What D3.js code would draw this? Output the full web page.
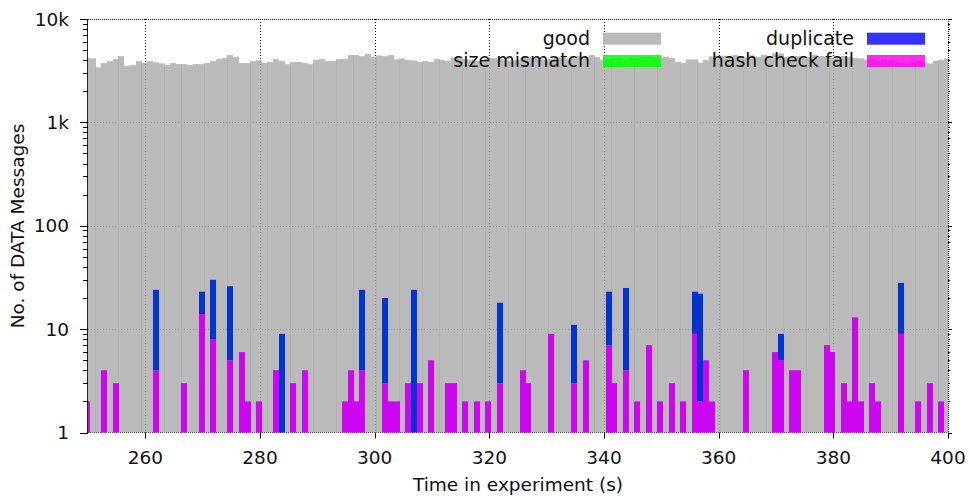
<!DOCTYPE html>
<html>
<head>
<meta charset="utf-8">
<script src="https://cdn.jsdelivr.net/npm/d3@7"></script>
<style>
  body { margin: 0; background: #fff; }
  svg { font-family: "DejaVu Sans", sans-serif; }
</style>
</head>
<body>
<div class="graph"></div>
<script>
// one bar per second, first bin is 249
const firstSecond = 249;
const goodCounts = [
  4188, 4159, 3404, 3746, 3917, 4095, 4378, 3504, 3583, 3917,
  3771, 3917, 3805, 3721, 3583, 3746, 3663, 3663, 3583, 3663,
  3663, 3746, 3917, 4095, 4188, 4477, 4281, 3746, 3746, 3917,
  4005, 3746, 3831, 4095, 3917, 3663, 3831, 3831, 3746, 3663,
  4005, 4095, 3917, 3917, 4095, 4095, 4477, 4477, 4378, 4577,
  4310, 4447, 4378, 4477, 4068, 4159, 4005, 3978, 3831, 3917,
  3831, 4095, 4005, 3917, 4253, 4188, 4095, 4005, 3917, 4005,
  4095, 4188, 4095, 4005, 3917, 4005, 4188, 4281, 4188, 4095,
  4005, 4095, 4281, 4188, 4095, 4188, 4378, 4281, 4477, 4281,
  4005, 4095, 4159, 4159, 4068, 4159, 4159, 4310, 4310, 4253,
  4188, 4310, 4188, 3856, 3771, 4068, 4068, 3771, 4005, 4349,
  4407, 4407, 4310, 4477, 4310, 4253, 4447, 4310, 4477, 4378,
  4649, 4649, 4310, 4281, 4378, 4188, 4281, 4477, 4378, 4281,
  4188, 4281, 4378, 4281, 4188, 4159, 4005, 4122, 3943, 4095,
  4005, 3856, 3805, 3721, 3805, 3943, 3856, 3721, 3943, 4005,
  4159
];

// seconds where something went wrong
const eventSeconds = [
  249, 252, 254, 261, 266, 269, 271, 274, 276, 277,
  279, 282, 283, 285, 287, 294, 295, 296, 297, 301,
  302, 303, 305, 306, 307, 309, 312, 313, 315, 317,
  319, 321, 325, 326, 330, 334, 336, 340, 341, 343,
  345, 347, 349, 351, 353, 355, 356, 357, 358, 364,
  369, 370, 372, 373, 378, 379, 381, 382, 383, 384,
  386, 387, 391, 394, 396, 398
];
const hashFail = [
  2, 4, 3, 4, 3, 14, 8, 5, 6, 2,
  2, 4, 0, 3, 4, 2, 4, 2, 4, 3,
  2, 2, 3, 0, 3, 5, 3, 3, 2, 2,
  2, 3, 4, 3, 9, 3, 5, 7, 3, 4,
  2, 7, 2, 3, 2, 9, 2, 5, 2, 4,
  6, 5, 4, 4, 7, 6, 3, 2, 13, 2,
  3, 2, 9, 2, 3, 2
];
const duplicate = [
  0, 0, 0, 20, 0, 9, 22, 21, 0, 0,
  0, 0, 9, 0, 0, 0, 0, 0, 20, 17,
  0, 0, 0, 24, 0, 0, 0, 0, 0, 0,
  0, 15, 0, 0, 0, 8, 0, 16, 0, 21,
  0, 0, 0, 0, 0, 14, 20, 0, 0, 0,
  0, 4, 0, 0, 0, 0, 0, 0, 0, 0,
  0, 0, 19, 0, 0, 0
];

const xTicks = [260, 280, 300, 320, 340, 360, 380, 400];
const yTicks = [1, 10, 100, 1000, 10000];
const yTickLabels = ["1", "10", "100", "1k", "10k"];

const legendNames = ["good", "size mismatch", "duplicate", "hash check fail"];
const legendColors = ["rgba(176,176,176,0.87)", "rgba(0,255,0,0.85)", "rgba(0,0,255,0.8)", "rgba(255,0,240,0.83)"];

const binOffset = 0.3;

const margin = {top: 19, right: 21, bottom: 64.5, left: 88},
  W = 969, H = 497,
  width = W - margin.left - margin.right,
  height = H - margin.top - margin.bottom;

const svg = d3.select(".graph").append("svg")
  .attr("width", W)
  .attr("height", H);

svg.append("defs").append("clipPath")
    .attr("id", "clip")
  .append("rect")
    .attr("width", width)
    .attr("height", height + 1);

const plot = svg.append("g")
  .attr("transform", "translate(" + margin.left + "," + margin.top + ")");

const x = d3.scaleLinear().domain([250, 400]).range([0, width]);
const y = d3.scaleLog().domain([1, 10000]).range([height, 0]);

// bars snap to whole pixels like the original renderer, so neighbours overlap now and then
const barX = s => Math.round(x(s + binOffset));
const barW = s => Math.ceil(x(s + binOffset + 1) - x(s + binOffset));

// grid
const grid = plot.append("g").attr("stroke", "#000").attr("stroke-dasharray", "1,2").attr("stroke-width", 1);
grid.selectAll("line.gx")
  .data(xTicks.filter(d => d < 400))
  .enter().append("line")
    .attr("x1", d => Math.round(x(d)) + 0.5).attr("x2", d => Math.round(x(d)) + 0.5)
    .attr("y1", 0).attr("y2", height);
grid.selectAll("line.gy")
  .data(yTicks.filter(d => d > 1 && d < 10000))
  .enter().append("line")
    .attr("y1", d => Math.round(y(d)) + 0.5).attr("y2", d => Math.round(y(d)) + 0.5)
    .attr("x1", 0).attr("x2", width);

// border (dotted, except left)
const border = plot.append("g").attr("fill", "none").attr("stroke", "#000").attr("stroke-dasharray", "1,1");
border.append("path").attr("d", "M0,0.5H" + width + "M" + (width + 0.5) + ",0V" + height + "M0," + height + "H" + width);
plot.append("line")
  .attr("x1", -0.5).attr("x2", -0.5).attr("y1", 0).attr("y2", height + 0.5)
  .attr("stroke", "#222");

const bars = plot.append("g").attr("clip-path", "url(#clip)");

const xs = goodCounts.map((v, i) => ({sec: firstSecond + i, v: v}));
bars.append("g").selectAll("rect")
  .data(xs)
  .enter().append("rect")
    .attr("x", d => barX(d.sec))
    .attr("width", d => barW(d.sec))
    .attr("y", d => y(d.v))
    .attr("height", d => y(1) - y(d.v))
    .attr("fill", legendColors[0]);

const events = eventSeconds.map((s, i) => ({sec: s, hash: hashFail[i], dup: duplicate[i]}));

bars.append("g").selectAll("rect")
  .data(events.filter(d => d.hash > 1))
  .enter().append("rect")
    .attr("x", d => barX(d.sec))
    .attr("width", d => barW(d.sec))
    .attr("y", d => y(d.hash))
    .attr("height", d => y(1) - y(d.hash))
    .attr("fill", "#cc06f3");

bars.append("g").selectAll("rect")
  .data(events.filter(d => d.dup > 0))
  .enter().append("rect")
    .attr("x", d => barX(d.sec))
    .attr("width", d => barW(d.sec))
    .attr("y", d => y(d.hash + d.dup))
    .attr("height", d => y(Math.max(1, d.hash)) - y(d.hash + d.dup))
    .attr("fill", "#0433d3");

// y axis ticks
const yMinor = [];
yTicks.slice(0, -1).forEach(t => { for (let k = 2; k < 10; k++) yMinor.push(t * k); });

const ticks = plot.append("g").attr("stroke", "#000").attr("stroke-width", 1);
ticks.selectAll("line.ymaj")
  .data(yTicks)
  .enter().append("line")
    .attr("x1", -8).attr("x2", 0)
    .attr("y1", d => Math.round(y(d)) + 0.5).attr("y2", d => Math.round(y(d)) + 0.5);
ticks.selectAll("line.ymin")
  .data(yMinor)
  .enter().append("line")
    .attr("x1", -5).attr("x2", 0)
    .attr("y1", d => Math.round(y(d)) + 0.5).attr("y2", d => Math.round(y(d)) + 0.5);
ticks.selectAll("line.ymajr")
  .data(yTicks)
  .enter().append("line")
    .attr("x1", width).attr("x2", width + 4)
    .attr("y1", d => Math.round(y(d)) + 0.5).attr("y2", d => Math.round(y(d)) + 0.5);
ticks.selectAll("line.yminr")
  .data(yMinor)
  .enter().append("line")
    .attr("x1", width).attr("x2", width + 2)
    .attr("y1", d => Math.round(y(d)) + 0.5).attr("y2", d => Math.round(y(d)) + 0.5);
ticks.selectAll("line.xmaj")
  .data(xTicks)
  .enter().append("line")
    .attr("x1", d => Math.round(x(d)) + 0.5).attr("x2", d => Math.round(x(d)) + 0.5)
    .attr("y1", height).attr("y2", height + 6);

const labels = plot.append("g").attr("fill", "#111").style("font-size", "18.5px");
labels.selectAll("text.y")
  .data(yTicks)
  .enter().append("text")
    .attr("x", -19)
    .attr("y", d => y(d))
    .attr("dy", "0.36em")
    .attr("text-anchor", "end")
    .text((d, i) => yTickLabels[i]);
labels.selectAll("text.x")
  .data(xTicks)
  .enter().append("text")
    .attr("x", d => x(d))
    .attr("y", height + 31)
    .attr("text-anchor", "middle")
    .text(d => d);

svg.append("text")
  .attr("x", margin.left + width / 2)
  .attr("y", 491)
  .attr("text-anchor", "middle")
  .style("font-size", "18.5px")
  .attr("fill", "#111")
  .text("Time in experiment (s)");

svg.append("text")
  .attr("transform", "translate(24,226) rotate(-90)")
  .attr("text-anchor", "middle")
  .style("font-size", "18.5px")
  .attr("fill", "#111")
  .text("No. of DATA Messages");

// legend, two columns
const legendCols = [{textX: 590, boxX: 603}, {textX: 854, boxX: 867}];
const legend = svg.append("g").style("font-size", "19px");
legendNames.forEach((name, i) => {
  const col = legendCols[Math.floor(i / 2)];
  const rowY = 45 + (i % 2) * 22.3;
  legend.append("text")
    .attr("x", col.textX)
    .attr("y", rowY)
    .attr("text-anchor", "end")
    .attr("fill", "#111")
    .text(name);
  legend.append("rect")
    .attr("x", col.boxX)
    .attr("y", rowY - 12.3)
    .attr("width", 58)
    .attr("height", 12)
    .attr("fill", legendColors[i]);
});
</script>
</body>
</html>
